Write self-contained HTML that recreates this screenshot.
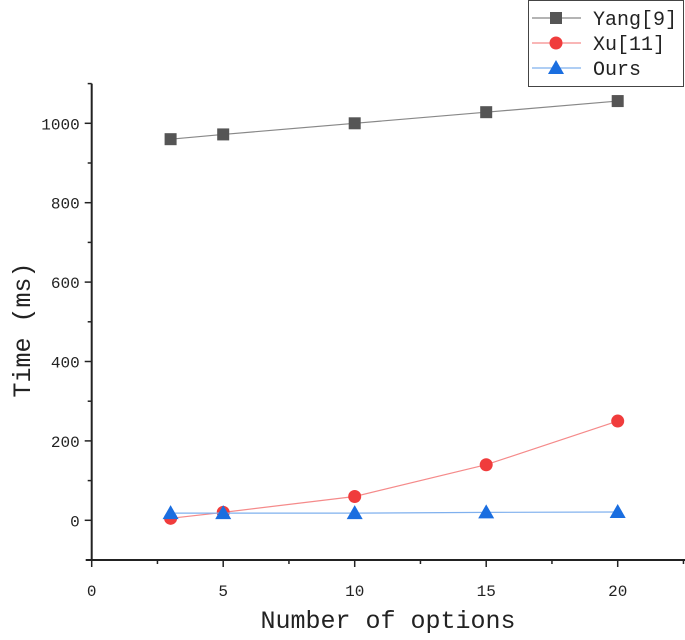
<!DOCTYPE html>
<html><head><meta charset="utf-8"><style>
body{margin:0;background:#fff;width:685px;height:635px;overflow:hidden}
text{font-family:"Liberation Mono","Noto Serif CJK SC",monospace;fill:#222}
</style></head><body>
<svg id="c" width="685" height="635"></svg>
<script>
const xValues=[3,5,10,15,20];
const yangValues=[960,972,1000,1028,1056];
const xuValues=[5,20,60,140,250];
const oursValues=[18,18,18,20,21];
const xTicks=[0,5,10,15,20];
const yTicks=[0,200,400,600,800,1000];
const svg=document.getElementById('c');
const NS='http://www.w3.org/2000/svg';
const X0=91.7,PX=26.3,Y0=520.3,PY=0.397;
const xs=v=>X0+v*PX, ys=v=>Y0-v*PY;
function el(t,a,p){const e=document.createElementNS(NS,t);for(const k in a)e.setAttribute(k,a[k]);(p||svg).appendChild(e);return e;}
const ax=el('g',{});


el('line',{x1:X0,y1:ys(1100),x2:X0,y2:ys(-100),stroke:'#222','stroke-width':2},ax);
el('line',{x1:X0-6,y1:ys(-100),x2:685,y2:ys(-100),stroke:'#222','stroke-width':2},ax);
for(let v=-100;v<=1100;v+=100){const major=v%200===0;el('line',{x1:X0-(major?7:4),y1:ys(v),x2:X0,y2:ys(v),stroke:'#222','stroke-width':1.5},ax);}
for(let v=0;v<=22.5;v+=2.5){const major=v%5===0;el('line',{x1:xs(v),y1:ys(-100),x2:xs(v),y2:ys(-100)+(major?7:4),stroke:'#222','stroke-width':1.5},ax);}
yTicks.forEach(v=>{const t=el('text',{x:X0-12,y:ys(v)+6,'text-anchor':'end','font-size':16},ax);t.textContent=v;
});
xTicks.forEach(v=>{const t=el('text',{x:xs(v),y:ys(-100)+36,'text-anchor':'middle','font-size':16},ax);t.textContent=v;
});
const xt=el('text',{x:388,y:628,'text-anchor':'middle','font-size':25});xt.textContent='Number of options';

const yt=el('text',{x:0,y:0,'text-anchor':'middle','font-size':25,transform:'translate(30,330) rotate(-90)'});yt.textContent='Time (ms)';

function marker(kind,x,y,color,g){
 if(kind==='sq')return el('rect',{x:x-6,y:y-6,width:12,height:12,fill:color},g);
 if(kind==='ci')return el('circle',{cx:x,cy:y,r:6.5,fill:color},g);
 return el('polygon',{points:`${x},${y-8} ${x-8},${y+6} ${x+8},${y+6}`,fill:color},g);
}
const series=[[yangValues,'#555','#888','sq','series-yang'],[xuValues,'#f03c3c','#f58a8a','ci','series-xu'],[oursValues,'#1a6ee0','#7fb0ee','tr','series-ours']];
series.forEach(([vals,col,lc,k,name])=>{
 const g=el('g',{});
 
 
 el('polyline',{points:vals.map((v,i)=>xs(xValues[i])+','+ys(v)).join(' '),fill:'none',stroke:lc,'stroke-width':1.2},g);
 vals.forEach((v,i)=>{const m=marker(k,xs(xValues[i]),ys(v),col,g);});
});
const lg=el('g',{});


el('rect',{x:528.5,y:0.5,width:155,height:86,fill:'#fff',stroke:'#444','stroke-width':1},lg);
const labels=['Yang[9]','Xu[11]','Ours'];
series.forEach(([v,col,lc,k],i)=>{
 const y=18+i*25;
 const e=el('g',{},lg);
 
 
 el('line',{x1:532,y1:y,x2:581,y2:y,stroke:lc,'stroke-width':1.2},e);
 marker(k,556,y,col,e);
 const t=el('text',{x:593,y:y+7,'font-size':20},e);t.textContent=labels[i];
});
</script>
</body></html>
